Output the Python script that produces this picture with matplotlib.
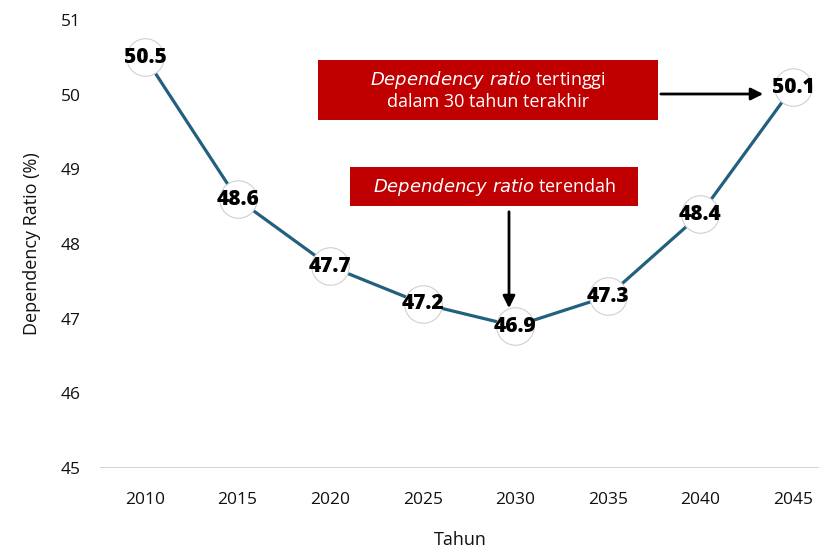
import matplotlib
matplotlib.use("Agg")
import matplotlib.pyplot as plt
from matplotlib.patches import Rectangle

years = [2010, 2015, 2020, 2025, 2030, 2035, 2040, 2045]
ratio = [50.5, 48.6, 47.7, 47.2, 46.9, 47.3, 48.4, 50.1]
yticks = [45, 46, 47, 48, 49, 50, 51]

plt.rcParams['font.family'] = ['Open Sans', 'DejaVu Sans']

fig = plt.figure(figsize=(8.2, 5.48), dpi=100)
ax = fig.add_axes([100/820, 1 - 468/548, 720/820, 448/548])

ax.set_xlim(2007.57, 2046.46)
ax.set_ylim(45, 51)

ax.axhline(45, color='#cccccc', lw=1.2, zorder=1)
ax.plot(years, ratio, color='#23607e', lw=2.3, zorder=2)
ax.scatter(years, ratio, s=27**2, facecolor='white', edgecolor='#d0d0d0', lw=0.8, zorder=3)
for x, y in zip(years, ratio):
    ax.text(x, y, f"{y:.1f}", ha='center', va='center', fontsize=15, fontweight='heavy',
            color='black', zorder=4)

for s in ax.spines.values():
    s.set_visible(False)
ax.set_xticks(years)
ax.set_yticks(yticks)
ax.tick_params(length=0, labelsize=12.5, colors='#111111')
ax.tick_params(axis='x', pad=17)
ax.tick_params(axis='y', pad=14)
ax.set_xlabel('Tahun', fontsize=13, labelpad=17, color='#111111')
ax.set_ylabel('Dependency Ratio (%)', fontsize=13, labelpad=14, color='#111111')

# annotation boxes (figure pixel coords)
def fx(px):
    return px / 820
def fy(py):
    return 1 - py / 548

b1 = Rectangle((fx(318), fy(120)), fx(658) - fx(318), fy(60) - fy(120),
               transform=fig.transFigure, facecolor='#c00000', edgecolor='none', zorder=5)
fig.patches.append(b1)
fig.text(fx(488), fy(80), r'$\it{Dependency\ ratio}$ tertinggi', ha='center', va='center',
         color='white', fontsize=13, zorder=6)
fig.text(fx(488), fy(102), 'dalam 30 tahun terakhir', ha='center', va='center',
         color='white', fontsize=13, zorder=6)

b2 = Rectangle((fx(350), fy(206)), fx(638) - fx(350), fy(167) - fy(206),
               transform=fig.transFigure, facecolor='#c00000', edgecolor='none', zorder=5)
fig.patches.append(b2)
fig.text(fx(494), fy(187), r'$\it{Dependency\ ratio}$ terendah', ha='center', va='center',
         color='white', fontsize=13, zorder=6)

ax.annotate('', xy=(fx(766), fy(94)), xytext=(fx(658), fy(94)),
            xycoords='figure fraction', textcoords='figure fraction',
            arrowprops=dict(arrowstyle='-|>', color='black', lw=2, mutation_scale=18))
ax.annotate('', xy=(fx(509), fy(311)), xytext=(fx(509), fy(209)),
            xycoords='figure fraction', textcoords='figure fraction',
            arrowprops=dict(arrowstyle='-|>', color='black', lw=2, mutation_scale=18))

fig.savefig('out.png', dpi=100)
